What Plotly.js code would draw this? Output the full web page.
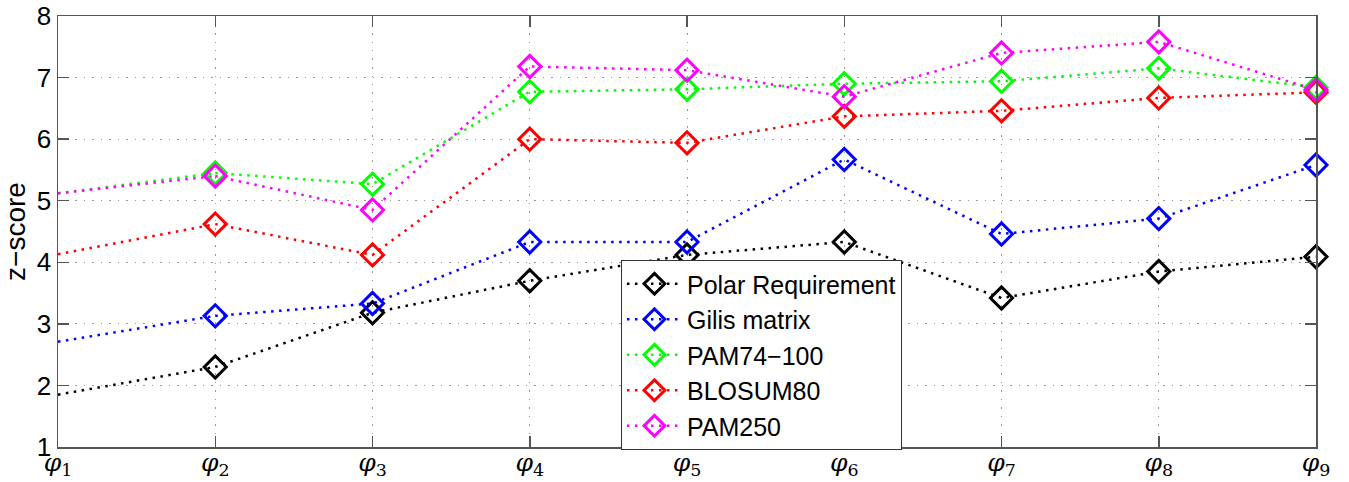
<!DOCTYPE html>
<html>
<head>
<meta charset="utf-8">
<script src="https://cdn.plot.ly/plotly-3.0.1.min.js"></script>
<style>html,body{margin:0;padding:0;background:#fff;}#chart{width:1349px;height:482px;}</style>
</head>
<body>
<div id="chart"></div>
<script>
const categories = ['<i>φ</i><sub>1</sub>','<i>φ</i><sub>2</sub>','<i>φ</i><sub>3</sub>','<i>φ</i><sub>4</sub>','<i>φ</i><sub>5</sub>','<i>φ</i><sub>6</sub>','<i>φ</i><sub>7</sub>','<i>φ</i><sub>8</sub>','<i>φ</i><sub>9</sub>'];
const polarRequirement = [1.85, 2.30, 3.18, 3.70, 4.12, 4.33, 3.42, 3.85, 4.09];
const gilisMatrix      = [2.71, 3.13, 3.33, 4.33, 4.33, 5.67, 4.46, 4.71, 5.58];
const pam74_100        = [5.12, 5.45, 5.27, 6.77, 6.81, 6.90, 6.94, 7.15, 6.84];
const blosum80         = [4.13, 4.62, 4.12, 6.00, 5.94, 6.37, 6.46, 6.67, 6.76];
const pam250           = [5.12, 5.40, 4.85, 7.18, 7.12, 6.69, 7.40, 7.58, 6.80];
const seriesNames = ['Polar Requirement','Gilis matrix','PAM74\u2212100','BLOSUM80','PAM250'];
const seriesColors = ['#000000','#0000ff','#00ff00','#ff0000','#ff00ff'];
const seriesValues = [polarRequirement, gilisMatrix, pam74_100, blosum80, pam250];

const DASH = '2.5px,5.5px';
const traces = [];
// first segment (line entering from the left edge, no marker at the first category)
seriesValues.forEach((vals, i) => {
  traces.push({
    type: 'scatter', mode: 'lines',
    x: categories.slice(0, 2), y: vals.slice(0, 2),
    name: seriesNames[i], showlegend: false, legendgroup: 'g' + i,
    line: {color: seriesColors[i], width: 2.5, dash: DASH},
    cliponaxis: false
  });
});
// remaining points with diamond markers
seriesValues.forEach((vals, i) => {
  traces.push({
    type: 'scatter', mode: 'lines+markers',
    x: categories.slice(1), y: vals.slice(1),
    name: seriesNames[i], legendgroup: 'g' + i,
    line: {color: seriesColors[i], width: 2.5, dash: DASH},
    marker: {symbol: 'diamond-open', size: 17, color: seriesColors[i], line: {width: 3, color: seriesColors[i]}},
    cliponaxis: false
  });
});

const layout = {
  width: 1349, height: 482,
  margin: {l: 58, r: 33, t: 16, b: 35},
  paper_bgcolor: '#fff', plot_bgcolor: '#fff',
  font: {family: '"Liberation Sans", Arial, sans-serif', color: '#000'},
  showlegend: true,
  legend: {
    x: 0.4475, xanchor: 'left', y: -0.007, yanchor: 'bottom',
    bgcolor: '#fff', bordercolor: '#333', borderwidth: 1,
    font: {size: 25, family: '"Liberation Sans", Arial, sans-serif', color: '#000'},
    tracegroupgap: 0, itemwidth: 55, groupclick: 'togglegroup'
  },
  xaxis: {
    type: 'category', range: [0, 8],
    showgrid: true, gridcolor: '#999', griddash: '1.5px,7px', gridwidth: 1,
    zeroline: false, showline: true, linecolor: '#555', linewidth: 1.5, mirror: 'ticks',
    ticks: 'inside', ticklen: 11, tickcolor: '#555', tickwidth: 1.5,
    ticklabelstandoff: -8,
    tickfont: {size: 25, family: '"DejaVu Serif", "Liberation Serif", serif', color: '#000'},
    fixedrange: true
  },
  yaxis: {
    range: [1, 8], dtick: 1, tick0: 1,
    showgrid: true, gridcolor: '#999', griddash: '1.5px,7px', gridwidth: 1,
    zeroline: false, showline: true, linecolor: '#555', linewidth: 1.5, mirror: 'ticks',
    ticks: 'inside', ticklen: 11, tickcolor: '#555', tickwidth: 1.5,
    tickfont: {size: 26, color: '#000'},
    title: {text: 'z\u2212score', font: {size: 28, color: '#000'}, standoff: 4},
    fixedrange: true
  }
};

Plotly.newPlot('chart', traces, layout, {displayModeBar: false, staticPlot: true});
</script>
</body>
</html>
